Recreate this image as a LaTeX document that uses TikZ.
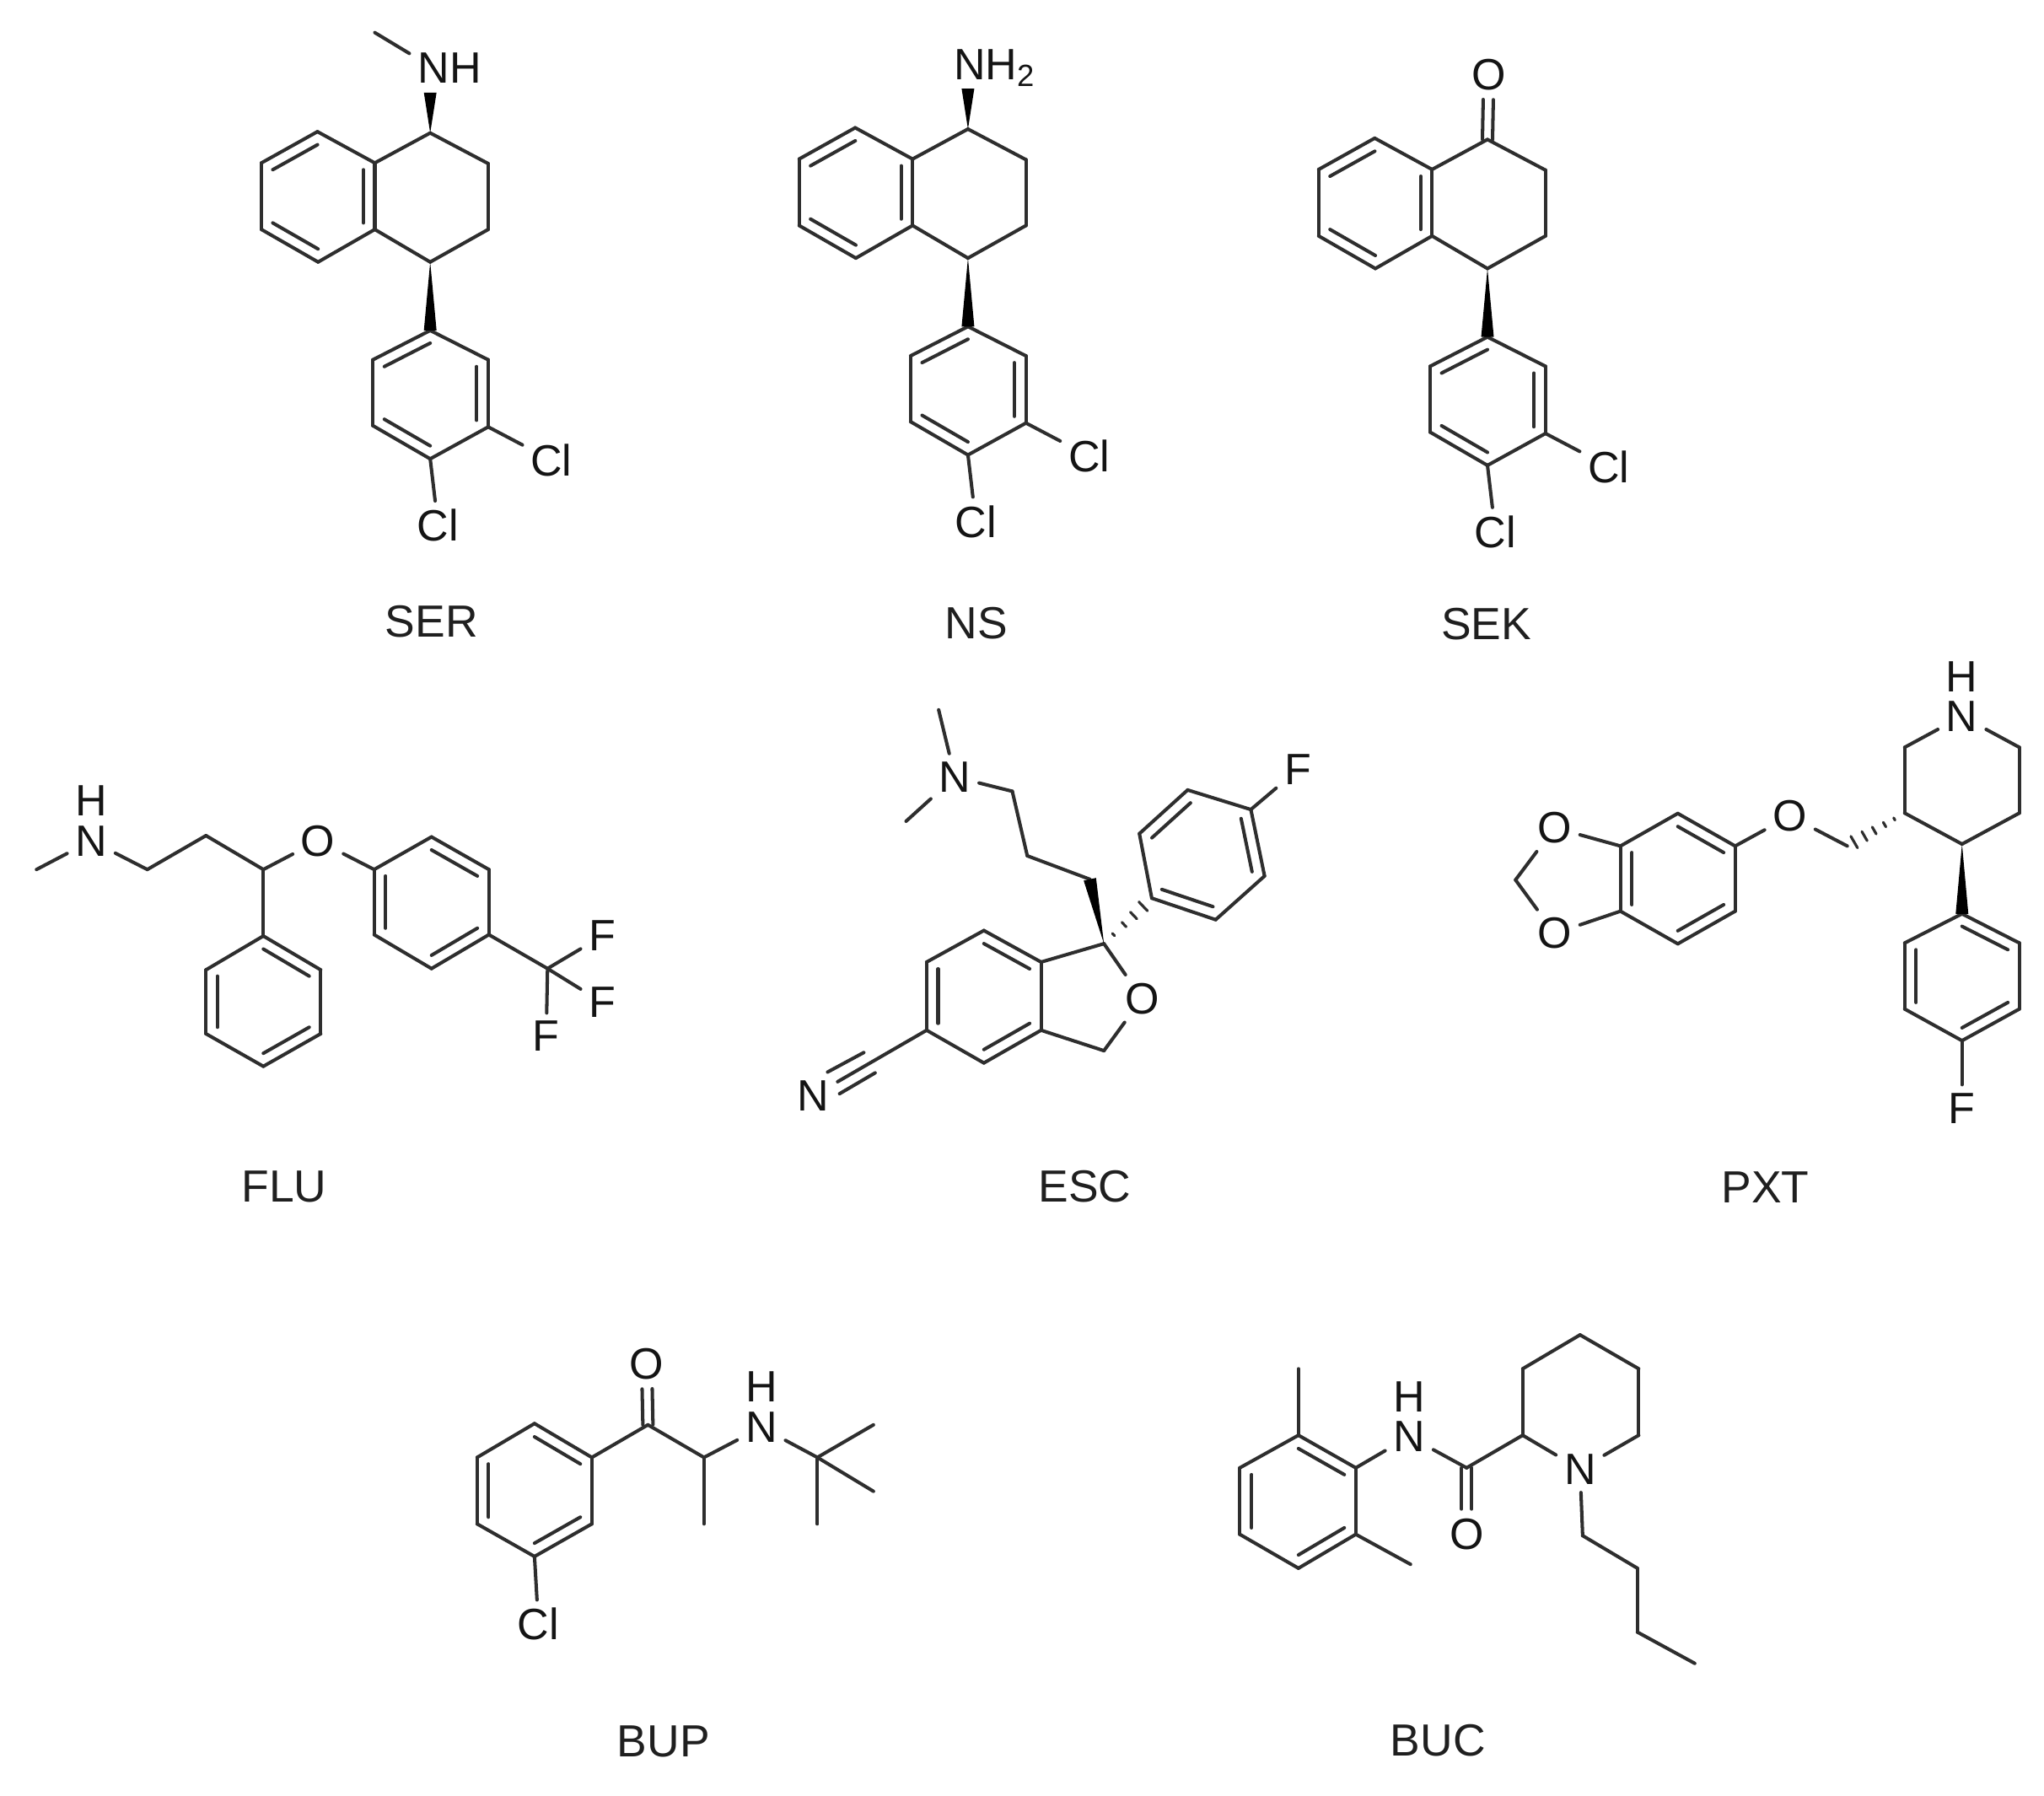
\documentclass[tikz,border=0pt]{standalone}
\usepackage{fontspec}
\setmainfont{Liberation Sans}
\usetikzlibrary{calc}
\tikzset{
  bond/.style={line width=1.15pt,line cap=round,line join=round,color=black!82},
  atom/.style={inner sep=2.6pt,font=\fontsize{14.8}{16}\selectfont,text=black!92},
  drugname/.style={inner sep=0pt,font=\fontsize{15.2}{16}\selectfont,text=black!88}
}
% inner line of an aromatic double bond
\newcommand{\ringdbl}[3]{\draw[bond] ($(#1)!.2!(#3)$) -- ($(#2)!.2!(#3)$);}
% free double bond, ends clear of the label
\newcommand{\codbl}[2]{
  \draw[bond,shorten >=.3cm] ($(#1)!.06cm!90:(#2)$) -- ($(#2)!.06cm!-90:(#1)$);
  \draw[bond,shorten >=.3cm] ($(#1)!.06cm!-90:(#2)$) -- ($(#2)!.06cm!90:(#1)$);}
\newcommand{\wedgebond}[2]{\fill[black] (#1) -- ($(#2)!.075cm!90:(#1)$) -- ($(#2)!.075cm!-90:(#1)$) -- cycle;}
\newcommand{\hashbond}[3]{
  \foreach \hh in {#3} {
    \coordinate (hh) at ($(#1)!\hh!(#2)$);
    \draw[bond,line width=.9pt] ($(hh)!\hh*.09cm!90:(#2)$) -- ($(hh)!\hh*.09cm!-90:(#2)$);
  }}
\begin{document}
\begin{tikzpicture}[x=0.01546cm,y=-0.01546cm]
\useasboundingbox (0,0) rectangle (1567.9,1377.1);

% SER, NS, SEK
\foreach \mol/\dx/\dy in {ser/0/0,ns/412.5/-3,sek/811/5} {
\begin{scope}[shift={(\dx,\dy)}]
  \coordinate (\mol-a) at (243.5,101);
  \coordinate (\mol-b) at (200.5,125);
  \coordinate (\mol-c) at (200.5,176);
  \coordinate (\mol-d) at (244,201);
  \coordinate (\mol-e) at (287.5,176);
  \coordinate (\mol-f) at (287.5,125);
  \coordinate (\mol-g) at (330,102);
  \coordinate (\mol-h) at (374.5,125.5);
  \coordinate (\mol-i) at (374.5,176);
  \coordinate (\mol-j) at (330,201);
  \coordinate (\mol-k) at (330,253.5);
  \coordinate (\mol-l) at (374.5,276);
  \coordinate (\mol-m) at (374.5,327.5);
  \coordinate (\mol-n) at (330,352);
  \coordinate (\mol-o) at (286,326.5);
  \coordinate (\mol-p) at (286,276);
  \coordinate (\mol-x) at (244,151);
  \coordinate (\mol-y) at (330,302);
  \node[atom] (\mol-cla) at (423,353) {Cl};
  \node[atom] (\mol-clb) at (336,403) {Cl};
  \foreach \a/\b in {a/b,b/c,c/d,d/e,e/f,f/a,f/g,g/h,h/i,i/j,j/e,k/l,l/m,m/n,n/o,o/p,p/k,m/cla,n/clb}
    \draw[bond] (\mol-\a) -- (\mol-\b);
  \ringdbl{\mol-a}{\mol-b}{\mol-x}
  \ringdbl{\mol-c}{\mol-d}{\mol-x}
  \ringdbl{\mol-e}{\mol-f}{\mol-x}
  \ringdbl{\mol-k}{\mol-p}{\mol-y}
  \ringdbl{\mol-l}{\mol-m}{\mol-y}
  \ringdbl{\mol-n}{\mol-o}{\mol-y}
  \wedgebond{\mol-j}{\mol-k}
\end{scope}
}
\node[atom] (ser-nh) at (345,52) {NH};
\coordinate (ser-me) at (287.5,25);
\coordinate (ser-meb) at (314,41);
\coordinate (ser-w) at (330,71);
\draw[bond] (ser-me) -- (ser-meb);
\wedgebond{ser-g}{ser-w}
\node[atom] (ns-nh) at (763,52) {NH\textsubscript{2}};
\coordinate (ns-w) at (742.5,68);
\wedgebond{ns-g}{ns-w}
\node[atom] (sek-o) at (1142,57) {O};
\codbl{sek-g}{sek-o}

% FLU
\coordinate (flu-me) at (28,667);
\node[atom] (flu-n) at (70,645) {N};
\node[atom] (flu-h) at (70,614) {H};
\coordinate (flu-a) at (113,667);
\coordinate (flu-b) at (158,641);
\coordinate (flu-c) at (202,667);
\node[atom] (flu-o) at (244,645) {O};
\coordinate (flu-p1) at (202,718);
\coordinate (flu-p2) at (246,744);
\coordinate (flu-p3) at (246,793);
\coordinate (flu-p4) at (202,818);
\coordinate (flu-p5) at (158,793);
\coordinate (flu-p6) at (158,744);
\coordinate (flu-px) at (202,768);
\coordinate (flu-q1) at (287,667);
\coordinate (flu-q2) at (331,642);
\coordinate (flu-q3) at (375,667);
\coordinate (flu-q4) at (375,717);
\coordinate (flu-q5) at (331,743);
\coordinate (flu-q6) at (287,717);
\coordinate (flu-qx) at (331,692);
\coordinate (flu-cf) at (420,743);
\node[atom] (flu-fa) at (462,718) {F};
\node[atom] (flu-fb) at (462,769) {F};
\node[atom] (flu-fc) at (419,795) {F};
\foreach \a/\b in {me/n,n/a,a/b,b/c,c/o,o/q1,c/p1,p1/p2,p2/p3,p3/p4,p4/p5,p5/p6,p6/p1,q1/q2,q2/q3,q3/q4,q4/q5,q5/q6,q6/q1,q4/cf,cf/fa,cf/fb,cf/fc}
  \draw[bond] (flu-\a) -- (flu-\b);
\ringdbl{flu-p1}{flu-p2}{flu-px}
\ringdbl{flu-p3}{flu-p4}{flu-px}
\ringdbl{flu-p5}{flu-p6}{flu-px}
\ringdbl{flu-q2}{flu-q3}{flu-qx}
\ringdbl{flu-q4}{flu-q5}{flu-qx}
\ringdbl{flu-q6}{flu-q1}{flu-qx}

% ESC
\coordinate (esc-mea) at (720,544.5);
\coordinate (esc-meb) at (695,630);
\node[atom] (esc-n) at (732.5,596) {N};
\coordinate (esc-a) at (776.5,607);
\coordinate (esc-b) at (788,656.5);
\coordinate (esc-c) at (836,674.5);
\coordinate (esc-q) at (846.8,723.9);
\coordinate (esc-b1) at (798.6,738);
\coordinate (esc-b2) at (754.7,713.8);
\coordinate (esc-b3) at (710.8,738);
\coordinate (esc-b4) at (710.8,790.3);
\coordinate (esc-b5) at (754.7,815.4);
\coordinate (esc-b6) at (798.6,790.3);
\coordinate (esc-bx) at (754.7,764);
\node[atom] (esc-o) at (876,766) {O};
\coordinate (esc-ch) at (846.8,806);
\node[atom] (esc-cn) at (624,840.5) {N};
\coordinate (esc-ta) at (634.8,822.4);
\coordinate (esc-tb) at (662.6,807.4);
\coordinate (esc-tc) at (644,839);
\coordinate (esc-td) at (671.3,823);
\coordinate (esc-f1) at (911,606);
\coordinate (esc-f2) at (959.5,621);
\coordinate (esc-f3) at (970,672);
\coordinate (esc-f4) at (932.5,705.5);
\coordinate (esc-f5) at (883.5,689);
\coordinate (esc-f6) at (874,639.5);
\coordinate (esc-fx) at (922,655.5);
\node[atom] (esc-fl) at (995.5,590.5) {F};
\foreach \a/\b in {mea/n,meb/n,n/a,a/b,b/c,q/b1,b1/b2,b2/b3,b3/b4,b4/b5,b5/b6,b6/b1,q/o,o/ch,ch/b6,b4/cn,ta/tb,tc/td,f1/f2,f2/f3,f3/f4,f4/f5,f5/f6,f6/f1,f2/fl}
  \draw[bond] (esc-\a) -- (esc-\b);
\ringdbl{esc-b1}{esc-b2}{esc-bx}
\ringdbl{esc-b3}{esc-b4}{esc-bx}
\ringdbl{esc-b5}{esc-b6}{esc-bx}
\ringdbl{esc-f1}{esc-f6}{esc-fx}
\ringdbl{esc-f2}{esc-f3}{esc-fx}
\ringdbl{esc-f4}{esc-f5}{esc-fx}
\wedgebond{esc-q}{esc-c}
\hashbond{esc-q}{esc-f5}{.2,.42,.62,.82}

% PXT
\node[atom] (pxt-oa) at (1192.5,635) {O};
\node[atom] (pxt-ob) at (1192.5,716) {O};
\coordinate (pxt-ch) at (1162.5,675);
\coordinate (pxt-b1) at (1243,649);
\coordinate (pxt-b2) at (1287,624);
\coordinate (pxt-b3) at (1331,649);
\coordinate (pxt-b4) at (1331,699);
\coordinate (pxt-b5) at (1287,724);
\coordinate (pxt-b6) at (1243,699);
\coordinate (pxt-bx) at (1287,674);
\node[atom] (pxt-oc) at (1373,626) {O};
\coordinate (pxt-cb) at (1417,649);
\coordinate (pxt-p1) at (1461,623.7);
\coordinate (pxt-p2) at (1461,573.3);
\node[atom] (pxt-n) at (1505,549.5) {N};
\node[atom] (pxt-h) at (1505,519) {H};
\coordinate (pxt-p4) at (1549,573.3);
\coordinate (pxt-p5) at (1549,623.7);
\coordinate (pxt-p6) at (1505,647.5);
\coordinate (pxt-a1) at (1505,701);
\coordinate (pxt-a2) at (1549,723.4);
\coordinate (pxt-a3) at (1549,774);
\coordinate (pxt-a4) at (1505,798.3);
\coordinate (pxt-a5) at (1461,774);
\coordinate (pxt-a6) at (1461,723.4);
\coordinate (pxt-ax) at (1505,749);
\node[atom] (pxt-fl) at (1505,850) {F};
\foreach \a/\b in {oa/ch,ch/ob,oa/b1,ob/b6,b1/b2,b2/b3,b3/b4,b4/b5,b5/b6,b6/b1,b3/oc,oc/cb,p1/p2,p2/n,n/p4,p4/p5,p5/p6,p6/p1,a1/a2,a2/a3,a3/a4,a4/a5,a5/a6,a6/a1,a4/fl}
  \draw[bond] (pxt-\a) -- (pxt-\b);
\ringdbl{pxt-b2}{pxt-b3}{pxt-bx}
\ringdbl{pxt-b4}{pxt-b5}{pxt-bx}
\ringdbl{pxt-b6}{pxt-b1}{pxt-bx}
\ringdbl{pxt-a1}{pxt-a2}{pxt-ax}
\ringdbl{pxt-a3}{pxt-a4}{pxt-ax}
\ringdbl{pxt-a5}{pxt-a6}{pxt-ax}
\wedgebond{pxt-p6}{pxt-a1}
\hashbond{pxt-p1}{pxt-cb}{.18,.35,.53,.7,.88}

% BUP
\coordinate (bup-r1) at (410,1092);
\coordinate (bup-r2) at (454,1118);
\coordinate (bup-r3) at (454,1169);
\coordinate (bup-r4) at (410,1194);
\coordinate (bup-r5) at (366,1169);
\coordinate (bup-r6) at (366,1118);
\coordinate (bup-rx) at (410,1143);
\node[atom] (bup-cl) at (413,1246) {Cl};
\coordinate (bup-co) at (497,1093);
\node[atom] (bup-o) at (496,1046) {O};
\coordinate (bup-al) at (540,1118);
\coordinate (bup-me) at (540,1169);
\node[atom] (bup-n) at (584,1095) {N};
\node[atom] (bup-h) at (584,1064) {H};
\coordinate (bup-tb) at (627,1118);
\coordinate (bup-ta) at (670,1093);
\coordinate (bup-tc) at (670,1144);
\coordinate (bup-td) at (627,1169);
\foreach \a/\b in {r1/r2,r2/r3,r3/r4,r4/r5,r5/r6,r6/r1,r4/cl,r2/co,co/al,al/me,al/n,n/tb,tb/ta,tb/tc,tb/td}
  \draw[bond] (bup-\a) -- (bup-\b);
\ringdbl{bup-r1}{bup-r2}{bup-rx}
\ringdbl{bup-r3}{bup-r4}{bup-rx}
\ringdbl{bup-r5}{bup-r6}{bup-rx}
\codbl{bup-co}{bup-o}

% BUC
\coordinate (buc-me) at (996,1050);
\coordinate (buc-r1) at (996,1101);
\coordinate (buc-r2) at (1040,1126);
\coordinate (buc-r3) at (1040,1177);
\coordinate (buc-r4) at (996,1203);
\coordinate (buc-r5) at (951,1177);
\coordinate (buc-r6) at (951,1126);
\coordinate (buc-rx) at (996,1152);
\coordinate (buc-mf) at (1082,1200);
\node[atom] (buc-n) at (1081,1102) {N};
\node[atom] (buc-h) at (1081,1071.5) {H};
\coordinate (buc-co) at (1125,1126);
\node[atom] (buc-o) at (1125,1177) {O};
\coordinate (buc-p1) at (1168,1101);
\coordinate (buc-p2) at (1168,1050);
\coordinate (buc-p3) at (1212,1024);
\coordinate (buc-p4) at (1257,1050);
\coordinate (buc-p5) at (1257,1101);
\node[atom] (buc-pn) at (1212,1127) {N};
\coordinate (buc-c1) at (1214,1178);
\coordinate (buc-c2) at (1256,1203);
\coordinate (buc-c3) at (1256,1252);
\coordinate (buc-c4) at (1300,1276);
\foreach \a/\b in {me/r1,r1/r2,r2/r3,r3/r4,r4/r5,r5/r6,r6/r1,r3/mf,r2/n,n/co,co/p1,p1/p2,p2/p3,p3/p4,p4/p5,p5/pn,pn/p1,pn/c1,c1/c2,c2/c3,c3/c4}
  \draw[bond] (buc-\a) -- (buc-\b);
\ringdbl{buc-r1}{buc-r2}{buc-rx}
\ringdbl{buc-r3}{buc-r4}{buc-rx}
\ringdbl{buc-r5}{buc-r6}{buc-rx}
\codbl{buc-co}{buc-o}

% names
\node[drugname] (name-ser) at (331,477) {SER};
\node[drugname] (name-ns) at (749,478) {NS};
\node[drugname] (name-sek) at (1140,479) {SEK};
\node[drugname] (name-flu) at (218,910) {FLU};
\node[drugname] (name-esc) at (832,910) {ESC};
\node[drugname] (name-pxt) at (1354,911) {PXT};
\node[drugname] (name-bup) at (509,1336) {BUP};
\node[drugname] (name-buc) at (1103,1335) {BUC};
\end{tikzpicture}
\end{document}
